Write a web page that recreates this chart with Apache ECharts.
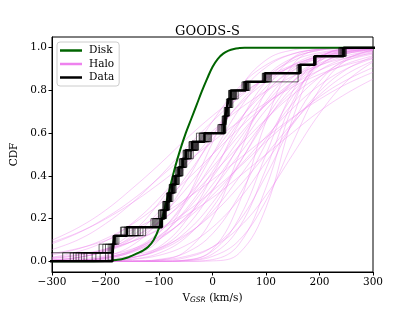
<!DOCTYPE html>
<html>
<head>
<meta charset="utf-8">
<script src="https://cdn.jsdelivr.net/npm/echarts@6/dist/echarts.min.js"></script>
<style>
html,body{margin:0;padding:0;background:#fff;}
#c{width:415px;height:312px;}
</style>
</head>
<body>
<div id="c"></div>
<script>
// ---- data ----
const xTicks = [-300, -200, -100, 0, 100, 200, 300];
const yTicks = [0.0, 0.2, 0.4, 0.6, 0.8, 1.0];

// Disk model CDF
const diskX = [-300,-250,-200,-190,-180,-170,-160,-150,-140,-130,-120,-110,-100,-90,-80,-70,-60,-50,-40,-30,-20,-10,0,10,20,30,40,50,60,70,300];
const diskY = [0,0,0.001,0.003,0.006,0.01,0.017,0.027,0.038,0.05,0.068,0.1,0.155,0.24,0.34,0.44,0.525,0.6,0.665,0.73,0.795,0.855,0.91,0.948,0.972,0.986,0.994,0.998,1,1,1];

// Halo model CDFs, sampled at haloX
const haloX = [-300,-250,-200,-150,-100,-50,0,50,100,150,200,250,300];
const halo01 = [.005,.018,.055,.136,.274,.460,.655,.816,.919,.971,.992,.998,1.0];
const halo02 = [.005,.018,.051,.119,.233,.394,.571,.739,.862,.939,.977,.993,.998];
const halo03 = [.006,.019,.048,.106,.203,.337,.5,.663,.797,.894,.952,.981,.994];
const halo04 = [.001,.005,.018,.055,.136,.274,.460,.655,.816,.919,.971,.992,.998];
const halo05 = [.007,.019,.046,.095,.179,.295,.440,.591,.732,.841,.916,.962,.984];
const halo06 = [.001,.005,.018,.051,.119,.233,.394,.571,.739,.862,.939,.977,.993];
const halo07 = [0,.001,.004,.017,.059,.159,.330,.544,.749,.889,.962,.990,.998];
const halo08 = [.002,.006,.019,.048,.106,.203,.337,.5,.663,.797,.894,.952,.981];
const halo09 = [0,.001,.005,.018,.055,.136,.274,.460,.655,.816,.919,.971,.992];
const halo10 = [.004,.011,.027,.058,.113,.195,.309,.444,.583,.716,.824,.901,.949];
const halo11 = [0,.001,.005,.018,.051,.119,.233,.394,.571,.739,.862,.939,.977];
const halo12 = [0,0,0,.001,.009,.040,.129,.309,.552,.773,.916,.977,.996];
const halo13 = [.001,.004,.010,.027,.062,.125,.221,.352,.5,.648,.779,.875,.938];
const halo14 = [0,0,0,0,0,.004,.034,.159,.433,.749,.933,.990,.999];
const halo15 = [0,0,0,0,0,0,.008,.081,.345,.726,.945,.995,1.0];
const halo16 = [0,0,0,0,0,0,.002,.038,.251,.670,.941,.996,1.0];
const halo17 = [0,0,0,0,0,.003,.023,.099,.284,.556,.805,.942,.989];
const halo18 = [.055,.102,.176,.274,.394,.528,.655,.767,.858,.919,.958,.981,.992];
const halo19 = [.082,.134,.203,.288,.390,.5,.610,.712,.797,.866,.918,.952,.974];
const halo20 = [.089,.136,.198,.274,.363,.460,.560,.655,.742,.816,.875,.919,.951];
const halo21 = [.030,.059,.106,.174,.266,.377,.5,.623,.734,.826,.894,.941,.970];
const halo22 = [.036,.061,.097,.147,.212,.291,.382,.480,.579,.674,.758,.829,.885];
const halo23 = [.018,.033,.057,.093,.147,.215,.298,.397,.5,.603,.702,.785,.853];
const halo24 = [0,0,.003,.017,.067,.189,.401,.648,.841,.948,.988,.998,1.0];
const halo25 = [0,0,.003,.023,.099,.284,.556,.805,.942,.989,.999,1,1];
const halo26 = [0,0,0,0,.006,.048,.203,.5,.797,.952,.994,1,1];
const halo27 = [.014,.028,.053,.093,.152,.230,.330,.440,.560,.670,.770,.848,.907];
const halo28 = [.013,.029,.058,.109,.184,.284,.409,.540,.666,.779,.864,.924,.962];
const halo29 = [0,.003,.013,.048,.134,.288,.5,.712,.866,.952,.987,.997,1.0];
const halo30 = [0,0,0,0,0,.005,.055,.274,.655,.919,.992,1,1];
const halo31 = [.099,.159,.239,.341,.452,.571,.681,.777,.855,.911,.951,.974,.987];
const halo32 = [.001,.003,.014,.045,.115,.242,.421,.618,.788,.903,.964,.989,.997];
const halo33 = [.001,.004,.015,.042,.102,.206,.359,.536,.709,.841,.926,.972,.991];
const halo34 = [.001,.005,.023,.075,.187,.371,.587,.782,.908,.971,.993,.999,1];
const halo35 = [0,0,.002,.010,.038,.111,.251,.456,.670,.841,.941,.983,.996];
const halo36 = [0,.001,.002,.009,.028,.074,.159,.291,.464,.641,.794,.898,.958];
const halo37 = [0,0,0,0,.003,.017,.067,.189,.401,.648,.841,.948,.988];
const halo38 = [.019,.046,.095,.179,.295,.440,.591,.732,.841,.916,.962,.984,.994];
const halo39 = [0,0,0,.001,.006,.023,.067,.159,.309,.5,.691,.841,.933];
const halo40 = [0,0,0,0,0,.006,.048,.203,.5,.797,.952,.994,1];
const haloCurves = [halo01,halo02,halo03,halo04,halo05,halo06,halo07,halo08,halo09,halo10,
  halo11,halo12,halo13,halo14,halo15,halo16,halo17,halo18,halo19,halo20,
  halo21,halo22,halo23,halo24,halo25,halo26,halo27,halo28,halo29,halo30,
  halo31,halo32,halo33,halo34,halo35,halo36,halo37,halo38,halo39,halo40];

// Observed velocities (sorted) for the empirical CDF, and resampled versions
const dataV = [-187,-185,-183,-160,-95,-90,-85,-80,-75,-69,-63,-56,-50,-38,-15,22,24,27,30,34,62,98,163,191,245];
const resample1 = [-310,-186,-184,-150,-102,-94,-88,-82,-76,-70,-62,-54,-46,-34,-22,18,22,26,29,40,58,96,165,192,238];
const resample2 = [-210,-190,-182,-170,-108,-96,-86,-78,-72,-66,-58,-52,-42,-30,-8,16,24,28,34,44,66,100,160,190,248];
const resample3 = [-245,-188,-180,-140,-100,-88,-82,-76,-70,-64,-60,-50,-40,-28,-4,20,26,30,36,48,64,110,162,194,242];
const resample4 = [-225,-200,-186,-165,-115,-98,-92,-86,-80,-74,-66,-58,-52,-44,-25,14,20,24,28,32,55,94,158,189,236];
const resample5 = [-255,-187,-175,-130,-96,-86,-80,-74,-68,-62,-56,-48,-36,-26,-12,22,25,30,38,42,68,104,166,193,250];
const resample6 = [-195,-185,-178,-155,-104,-94,-90,-84,-78,-72,-64,-60,-54,-36,-18,10,19,23,27,31,60,97,164,191,244];
const resample7 = [-266,-212,-185,-145,-110,-100,-90,-82,-77,-71,-65,-57,-49,-41,-30,24,27,31,35,39,70,160,165,192,246];
const resample8 = [-235,-189,-183,-125,-99,-91,-87,-83,-79,-73,-67,-61,-51,-32,-14,21,23,25,33,37,64,108,162,190,241];
const resample9 = [-280,-192,-184,-158,-97,-89,-83,-79,-73,-67,-61,-53,-47,-35,-20,19,21,25,31,36,61,99,164,191,243];
const resample10 = [-250,-186,-181,-135,-106,-97,-91,-84,-76,-70,-59,-55,-44,-33,-6,17,23,29,33,45,63,102,163,192,247];
const resample11 = [-218,-195,-183,-172,-93,-87,-81,-77,-71,-65,-57,-51,-39,-27,-2,23,26,29,34,38,59,95,161,190,239];
const resample12 = [-240,-187,-182,-148,-112,-101,-93,-85,-81,-75,-69,-62,-55,-43,-24,12,18,22,26,30,57,93,164,193,245];
const resample13 = [-260,-205,-186,-162,-99,-92,-84,-78,-74,-68,-62,-54,-45,-31,-10,20,24,28,32,41,66,106,162,189,249];
const resample14 = [-200,-185,-184,-138,-94,-88,-82,-77,-70,-63,-55,-49,-41,-29,-16,25,28,32,36,43,67,99,165,191,243];
const resamples = [resample1,resample2,resample3,resample4,resample5,resample6,resample7,
  resample8,resample9,resample10,resample11,resample12,resample13,resample14];

// ---- chart ----
const FONT = 'DejaVu Serif';
const HALO = '#ee82ee';
const DISK = '#006400';

function ecdf(v) {
  const n = v.length;
  const pts = [[-400, 0]];
  v.forEach((x, i) => pts.push([x, (i + 1) / n]));
  pts.push([400, 1]);
  return pts;
}

const series = [];
series.push({
  name: 'Disk', type: 'line', z: 3,
  data: diskX.map((x, i) => [x, diskY[i]]),
  smooth: 0.4, showSymbol: false, symbol: 'none',
  lineStyle: { color: DISK, width: 2 }, itemStyle: { color: DISK }
});
haloCurves.forEach(c => {
  series.push({
    name: 'Halo', type: 'line', z: 2,
    data: haloX.map((x, i) => [x, c[i]]),
    smooth: 0.4, showSymbol: false, symbol: 'none',
    lineStyle: { color: HALO, width: 1, opacity: 0.4 }, itemStyle: { color: HALO }
  });
});
resamples.forEach(r => {
  series.push({
    name: 'Data', type: 'line', z: 4, step: 'end',
    data: ecdf(r), showSymbol: false, symbol: 'none',
    lineStyle: { color: '#000', width: 1, opacity: 0.6 }, itemStyle: { color: '#000' }
  });
});
series.push({
  name: 'Data', type: 'line', z: 5, step: 'end',
  data: ecdf(dataV), showSymbol: false, symbol: 'none',
  lineStyle: { color: '#000', width: 2.5 }, itemStyle: { color: '#000' }
});

const chart = echarts.init(document.getElementById('c'), null, { renderer: 'canvas' });
chart.setOption({
  animation: false,
  backgroundColor: '#fff',
  title: {
    text: 'GOODS-S', left: 'center', top: 20,
    textStyle: { fontFamily: FONT, fontSize: 13, fontWeight: 'normal', color: '#000' }
  },
  legend: {
    orient: 'vertical', left: 57, top: 42,
    icon: 'rect', itemWidth: 22, itemHeight: 2.5, itemGap: 2.5,
    padding: [3, 5, 3, 3],
    backgroundColor: 'rgba(255,255,255,0.8)', borderColor: '#cccccc', borderWidth: 1, borderRadius: 3,
    textStyle: { fontFamily: FONT, fontSize: 10.5, color: '#000', padding: [0, 0, 0, 2] },
    data: [
      { name: 'Disk', itemStyle: { color: DISK, opacity: 1 } },
      { name: 'Halo', itemStyle: { color: HALO, opacity: 1 } },
      { name: 'Data', itemStyle: { color: '#000', opacity: 1 } }
    ]
  },
  grid: { left: 52, right: 42, top: 37, bottom: 40, show: true, borderColor: '#000', borderWidth: 1, backgroundColor: 'transparent' },
  xAxis: {
    type: 'value', min: xTicks[0], max: xTicks[xTicks.length - 1], interval: 100,
    name: '{v|V}{s|GSR}{v| (km/s)}', nameLocation: 'middle', nameGap: 19,
    nameTextStyle: {
      rich: {
        v: { fontFamily: FONT, fontSize: 10.5, color: '#000' },
        s: { fontFamily: 'DejaVu Sans', fontStyle: 'italic', fontSize: 7.5, color: '#000', verticalAlign: 'bottom', padding: [4, 0, 0, 0] }
      }
    },
    axisLine: { onZero: false, lineStyle: { color: '#000', width: 1 } },
    axisTick: { show: true, inside: false, length: 3.5, lineStyle: { color: '#000' } },
    axisLabel: {
      margin: 5, fontFamily: FONT, fontSize: 10.5, color: '#000',
      formatter: v => (v < 0 ? '\u2212' + Math.abs(v) : String(v))
    },
    splitLine: { show: false }
  },
  yAxis: {
    type: 'value', min: -0.05, max: 1.05,
    name: 'CDF', nameLocation: 'middle', nameGap: 30,
    nameTextStyle: { fontFamily: FONT, fontSize: 10.5, color: '#000' },
    axisLine: { onZero: false, lineStyle: { color: '#000', width: 1 } },
    axisTick: { show: true, inside: false, length: 3.5, customValues: yTicks, lineStyle: { color: '#000' } },
    axisLabel: {
      margin: 5, fontFamily: FONT, fontSize: 10.5, color: '#000', customValues: yTicks,
      formatter: v => Number(v).toFixed(1)
    },
    splitLine: { show: false }
  },
  series: series
});
</script>
</body>
</html>
